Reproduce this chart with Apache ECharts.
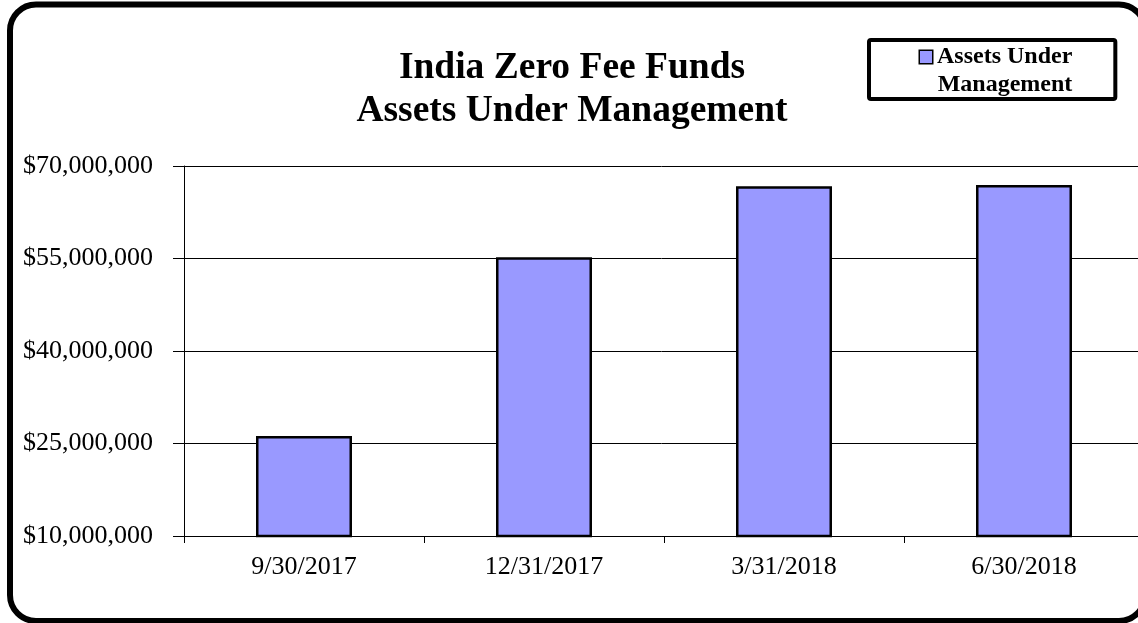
<!DOCTYPE html>
<html>
<head>
<meta charset="utf-8">
<script src="https://cdn.jsdelivr.net/npm/echarts@6/dist/echarts.min.js"></script>
<style>
  html, body { margin: 0; padding: 0; background: #fff; }
  #chart { width: 1138px; height: 623px; }
</style>
</head>
<body>
<div id="chart"></div>
<script>
// ---- data ----
const categories = ['9/30/2017', '12/31/2017', '3/31/2018', '6/30/2018'];
const assetsUnderManagement = [26200000, 55200000, 66700000, 66900000];
const yTicks = [10000000, 25000000, 40000000, 55000000, 70000000];
const seriesName = 'Assets Under Management';
const titleLines = ['India Zero Fee Funds', 'Assets Under Management'];

// ---- chart ----
const SERIF = '"Liberation Serif", "Times New Roman", serif';
const chart = echarts.init(document.getElementById('chart'), null, { renderer: 'canvas' });

const option = {
  animation: false,
  backgroundColor: '#ffffff',
  title: {
    text: titleLines.join('\n'),
    left: 567,
    top: 42,
    textAlign: 'center',
    textStyle: {
      fontFamily: SERIF,
      fontSize: 37.5,
      fontWeight: 'bold',
      color: '#000',
      lineHeight: 43
    }
  },
  legend: {
    data: [seriesName],
    left: 869,
    top: 40,
    orient: 'vertical',
    itemWidth: 0,
    itemHeight: 0,
    icon: 'rect',
    borderColor: '#000',
    borderWidth: 4,
    borderRadius: 2,
    backgroundColor: '#fff',
    padding: [3, 43, 0, 45],
    formatter: function () {
      return '{m|}{s| }{t|Assets Under}\n{t|Management}';
    },
    textStyle: {
      fontFamily: SERIF,
      fontSize: 24,
      fontWeight: 'bold',
      color: '#000',
      lineHeight: 28,
      rich: {
        m: { width: 12, height: 12, backgroundColor: '#9999FF', borderColor: '#000', borderWidth: 1.5, align: 'right', verticalAlign: 'middle' },
        s: { fontFamily: SERIF, fontSize: 24, fontWeight: 'bold', lineHeight: 28, align: 'right', width: 5 },
        t: { fontFamily: SERIF, fontSize: 24, fontWeight: 'bold', color: '#000', lineHeight: 28, align: 'right' }
      }
    }
  },
  grid: {
    left: 184,
    top: 166,
    width: 960,
    bottom: 87,
    containLabel: false,
    outerBoundsMode: 'none'
  },
  xAxis: {
    type: 'category',
    data: categories,
    boundaryGap: true,
    axisLine: { show: true, lineStyle: { color: '#000', width: 1 } },
    axisTick: { show: true, interval: 0, alignWithLabel: false, length: 7, lineStyle: { color: '#000', width: 1 } },
    axisLabel: { fontFamily: SERIF, fontSize: 26, color: '#000', margin: 18, interval: 0 },
    splitLine: { show: false }
  },
  yAxis: {
    type: 'value',
    min: yTicks[0],
    max: yTicks[yTicks.length - 1],
    axisLine: { show: true, lineStyle: { color: '#000', width: 1 } },
    axisTick: { show: true, length: 11, customValues: yTicks, lineStyle: { color: '#000', width: 1 } },
    axisLabel: {
      customValues: yTicks,
      fontFamily: SERIF,
      fontSize: 26,
      color: '#000',
      margin: 31,
      formatter: function (v) { return '$' + Number(v).toLocaleString('en-US'); }
    },
    splitLine: { show: true, lineStyle: { color: '#000', width: 1 } }
  },
  series: [{
    name: seriesName,
    type: 'bar',
    data: assetsUnderManagement,
    barWidth: '40%',
    itemStyle: { color: '#9999FF', borderColor: '#000', borderWidth: 2.5 }
  }],
  graphic: [{
    type: 'rect',
    z: 100,
    silent: true,
    shape: { x: 10, y: 4.5, width: 1135, height: 616.5, r: 26 },
    style: { fill: 'none', stroke: '#000', lineWidth: 6 }
  }]
};

chart.setOption(option);
</script>
</body>
</html>
